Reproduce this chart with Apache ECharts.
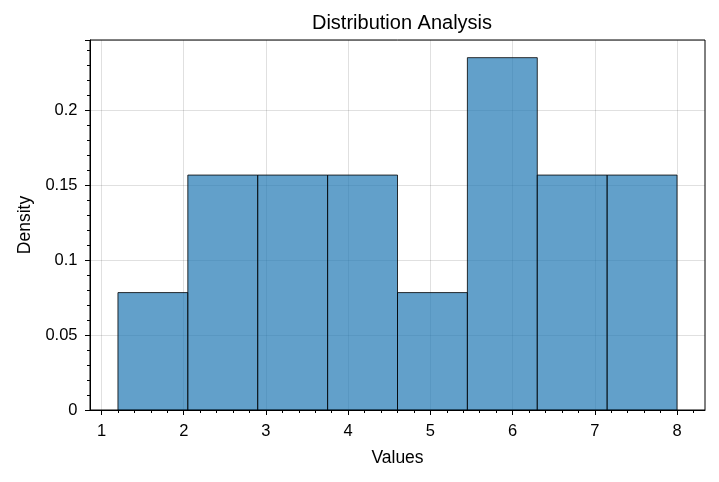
<!DOCTYPE html>
<html><head><meta charset="utf-8">
<script src="https://cdn.jsdelivr.net/npm/echarts@6/dist/echarts.min.js"></script>
<style>html,body{margin:0;padding:0;background:#fff}#c{width:719px;height:482px}</style>
</head><body><div id="c"></div>
<script>
const binStarts = [1.2, 2.05, 2.9, 3.75, 4.6, 5.45, 6.3, 7.15];
const binEnds   = [2.05, 2.9, 3.75, 4.6, 5.45, 6.3, 7.15, 8.0];
const densities = [0.0784, 0.1569, 0.1569, 0.1569, 0.0784, 0.2353, 0.1569, 0.1569];
const xMajorTicks = [1, 2, 3, 4, 5, 6, 7, 8];
const xMinorTicks = [1.2,1.4,1.6,1.8,2.2,2.4,2.6,2.8,3.2,3.4,3.6,3.8,4.2,4.4,4.6,4.8,5.2,5.4,5.6,5.8,6.2,6.4,6.6,6.8,7.2,7.4,7.6,7.8,8.2];
const yMinorTicks = [0.01,0.02,0.03,0.04,0.06,0.07,0.08,0.09,0.11,0.12,0.13,0.14,0.16,0.17,0.18,0.19,0.21,0.22,0.23,0.24];

const data = binStarts.map((s, i) => [s, binEnds[i], densities[i]]);
const FONT = 'Liberation Sans, Arial, sans-serif';
const xMin = 0.86, xMax = 8.34, yMax = 0.2471;

const chart = echarts.init(document.getElementById('c'));
chart.setOption({
  animation: false,
  title: { text: 'Distribution Analysis', left: 397, top: 8.5, textAlign: 'center',
    textStyle: { fontFamily: FONT, fontSize: 20, fontWeight: 'normal', color: '#000' } },
  grid: { left: 90, right: 14, top: 40, bottom: 72, show: true, borderColor: '#000', borderWidth: 1, backgroundColor: 'transparent' },
  xAxis: [
    { type: 'value', min: xMin, max: xMax, name: 'Values', nameLocation: 'middle', nameGap: 39.5,
      nameTextStyle: { fontFamily: FONT, fontSize: 17.5, color: '#000' },
      axisLine: { show: true, lineStyle: { color: '#000', width: 1 } },
      axisTick: { show: true, length: 5, customValues: xMajorTicks, lineStyle: { color: '#000' } },
      axisLabel: { customValues: xMajorTicks, fontFamily: FONT, fontSize: 16.5, color: '#000', margin: 12.5 },
      splitLine: { show: true, lineStyle: { color: 'rgba(0,0,0,0.12)', width: 1 } } },
    { type: 'value', min: xMin, max: xMax, position: 'bottom',
      axisLine: { show: false },
      axisTick: { show: true, length: 3, customValues: xMinorTicks, lineStyle: { color: '#000' } },
      axisLabel: { show: false }, splitLine: { show: false } }
  ],
  yAxis: [
    { type: 'value', min: 0, max: yMax, interval: 0.05, name: 'Density', nameLocation: 'middle', nameGap: 56,
      nameTextStyle: { fontFamily: FONT, fontSize: 17.5, color: '#000' },
      axisLine: { show: true, lineStyle: { color: '#000', width: 1 } },
      axisTick: { show: true, length: 5, lineStyle: { color: '#000' } },
      axisLabel: { fontFamily: FONT, fontSize: 16.5, color: '#000', margin: 12.5,
        formatter: v => (v > 0.246 ? '' : String(+v.toFixed(2))) },
      splitLine: { show: true, lineStyle: { color: 'rgba(0,0,0,0.12)', width: 1 } } },
    { type: 'value', min: 0, max: yMax, position: 'left',
      axisLine: { show: false },
      axisTick: { show: true, length: 3, customValues: yMinorTicks, lineStyle: { color: '#000' } },
      axisLabel: { show: false }, splitLine: { show: false } }
  ],
  series: [{
    type: 'custom', xAxisIndex: 0, yAxisIndex: 0, data: data,
    encode: { x: [0, 1], y: 2 },
    renderItem: function (params, api) {
      const p0 = api.coord([api.value(0), api.value(2)]);
      const p1 = api.coord([api.value(1), 0]);
      return { type: 'rect',
        shape: { x: p0[0], y: p0[1], width: p1[0] - p0[0], height: p1[1] - p0[1] },
        style: { fill: 'rgba(31,119,180,0.7)', stroke: 'rgba(0,0,0,0.8)', lineWidth: 1 } };
    }
  }]
});
</script></body></html>
